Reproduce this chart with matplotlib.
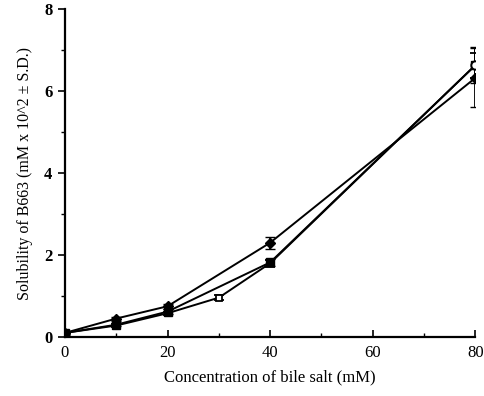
import matplotlib
matplotlib.use("Agg")
import matplotlib.pyplot as plt
from matplotlib.ticker import MultipleLocator

# Data
x_a = [0, 10, 20, 40, 80]
y_a = [0.10, 0.45, 0.75, 2.30, 6.32]
e_a = [0.05, 0.05, 0.06, 0.15, 0.72]

x_b = [0, 10, 20, 40, 80]
y_b = [0.10, 0.30, 0.62, 1.82, 6.63]
e_b = [0.03, 0.04, 0.06, 0.08, 0.44]

x_c = [0, 10, 20, 30, 40, 80]
y_c = [0.10, 0.28, 0.58, 0.96, 1.80, 6.63]
e_c = [0.02, 0.03, 0.04, 0.06, 0.08, 0.30]

x_ticks = [0, 20, 40, 60, 80]
y_ticks = [0, 2, 4, 6, 8]

plt.rcParams['font.family'] = ['Liberation Serif', 'DejaVu Serif']

fig = plt.figure(figsize=(4.85, 3.96), dpi=100)
ax = fig.add_axes([0.134, 0.149, 0.846, 0.828])

ax.errorbar(x_c, y_c, yerr=e_c, color='black', lw=1.4, marker='s', ms=5,
            mfc='white', mec='black', mew=1.3, capsize=3.5, elinewidth=1.3, zorder=2)
ax.errorbar(x_b, y_b, yerr=e_b, color='black', lw=1.4, marker='s', ms=5.5,
            mfc='black', mec='black', capsize=3.5, elinewidth=1.3, zorder=3)
ax.errorbar(x_a, y_a, yerr=e_a, color='black', lw=1.4, marker='D', ms=5,
            mfc='black', mec='black', capsize=3.5, elinewidth=1.3, zorder=4)
# open circle marker at last point of open series
ax.plot(x_c[-1:], y_c[-1:], 'o', ms=6, mfc='white', mec='black', mew=1.4, zorder=6)

ax.set_xlim(0, 80)
ax.set_ylim(0, 8)
ax.set_xticks(x_ticks)
ax.set_yticks(y_ticks)
ax.xaxis.set_minor_locator(MultipleLocator(10))
ax.yaxis.set_minor_locator(MultipleLocator(1))
ax.tick_params(axis='x', which='major', direction='in', length=5, width=1.2, labelsize=12, pad=6)
ax.tick_params(axis='x', which='minor', direction='in', length=3, width=1.0)
ax.tick_params(axis='y', which='major', direction='out', length=5, width=1.2, labelsize=12, pad=4)
ax.tick_params(axis='y', which='minor', direction='out', length=3, width=1.0)
for lab in ax.get_yticklabels():
    lab.set_fontweight('bold')

for s in ['top', 'right']:
    ax.spines[s].set_visible(False)
for s in ['left', 'bottom']:
    ax.spines[s].set_linewidth(1.6)
ax.spines['left'].set_bounds(0, 8)

ax.set_xlabel('Concentration of bile salt (mM)', fontsize=12, labelpad=6)
ax.set_ylabel('Solubility of B663 (mM x 10^2 ± S.D.)', fontsize=11.5, labelpad=8)

fig.savefig('out.png', dpi=100)
